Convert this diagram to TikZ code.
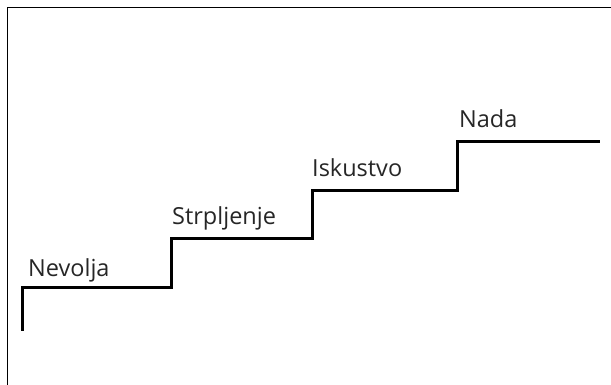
\documentclass[tikz,border=0pt]{standalone}
\usepackage{fontspec}
\setmainfont{Open Sans}
\usetikzlibrary{positioning}
\tikzset{
    stair/.style={line width=3pt, line join=miter, line cap=butt},
    steplabel/.style={anchor=base west, inner sep=0pt, font=\fontsize{23.5}{28}\selectfont, text=black!85},
}

\begin{document}
\begin{tikzpicture}[x=1pt,y=1pt]
\useasboundingbox (0,0) rectangle (611,385);
\draw[line width=0.8pt] (7,0) -- (7,378) -- (611,378);

\coordinate (s0) at (22,54);
\coordinate (s1) at (22,97);
\coordinate (s2) at (171,97);
\coordinate (s3) at (171,146);
\coordinate (s4) at (312,146);
\coordinate (s5) at (312,194);
\coordinate (s6) at (457,194);
\coordinate (s7) at (457,243);
\coordinate (s8) at (600,243);
\draw[stair] (s0) -- (s1) -- (s2) -- (s3) -- (s4) -- (s5) -- (s6) -- (s7) -- (s8);

\node[steplabel] (nevolja) at (28,108) {Nevolja};
\node[steplabel] (strpljenje) at (172,160) {Strpljenje};
\node[steplabel] (iskustvo) at (312,208) {Iskustvo};
\node[steplabel] (nada) at (459,257) {Nada};
\end{tikzpicture}
\end{document}
